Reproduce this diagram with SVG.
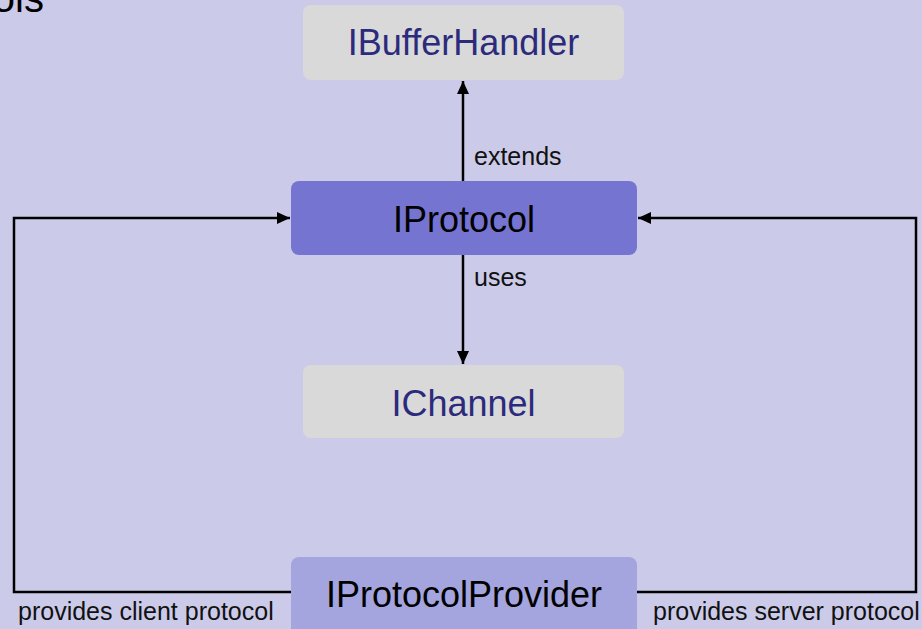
<svg xmlns="http://www.w3.org/2000/svg" width="922" height="629" viewBox="0 0 922 629">
<style>
.box-text{font-family:"Liberation Sans",Arial,sans-serif;font-size:36px;text-anchor:middle}
.navy{fill:#2c2a7c}
.dark{fill:#000}
.lbl{font-family:"Liberation Sans",Arial,sans-serif;font-size:25px;fill:#111}
.conn{fill:none;stroke:#000;stroke-width:2.5}
</style>
<defs>
<marker id="arr" markerUnits="userSpaceOnUse" markerWidth="14" markerHeight="12" refX="13" refY="6" orient="auto">
<path d="M0,0 L13,6 L0,12 Z" fill="#000"/>
</marker>
</defs>
<rect width="922" height="629" fill="#cbcbe9"/>
<text x="44" y="12" font-family="Liberation Sans, Arial, sans-serif" font-size="40" text-anchor="end" fill="#000">ols</text>
<g id="connectors">
<line class="conn" x1="463" y1="181" x2="463" y2="81" marker-end="url(#arr)"/>
<line class="conn" x1="463" y1="255" x2="463" y2="364" marker-end="url(#arr)"/>
<polyline class="conn" points="291,592 14,592 14,218 290,218" marker-end="url(#arr)"/>
<polyline class="conn" points="637,592 916,592 916,218 638,218" marker-end="url(#arr)"/>
<text class="lbl" x="474" y="165">extends</text>
<text class="lbl" x="474" y="286">uses</text>
<text class="lbl" x="18" y="620">provides client protocol</text>
<text class="lbl" x="653" y="620">provides server protocol</text>
</g>
<g id="IBufferHandler">
<rect x="303" y="5" width="321" height="75" rx="8" fill="#d9d9d9"/>
<text class="box-text navy" x="463.5" y="55">IBufferHandler</text>
</g>
<g id="IProtocol">
<rect x="291" y="181" width="346" height="74" rx="8" fill="#7575d1"/>
<text class="box-text dark" x="464" y="232">IProtocol</text>
</g>
<g id="IChannel">
<rect x="303" y="365" width="321" height="73" rx="8" fill="#d9d9d9"/>
<text class="box-text navy" x="463.5" y="416">IChannel</text>
</g>
<g id="IProtocolProvider">
<rect x="291" y="557" width="346" height="80" rx="8" fill="#a4a4de"/>
<text class="box-text dark" x="464" y="607">IProtocolProvider</text>
</g>
</svg>
